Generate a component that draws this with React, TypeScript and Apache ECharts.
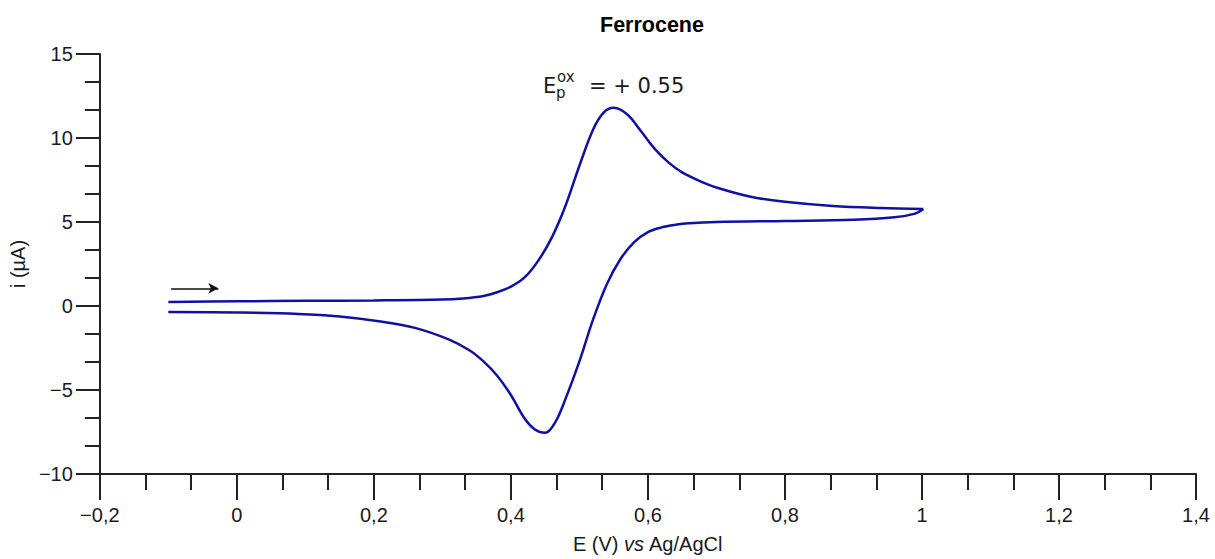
import React, { useEffect, useRef } from "react";
import * as echarts from "echarts";

const titleText = "Ferrocene";
const xTicks = { min: -0.2, max: 1.4, interval: 0.2 };
const yTicks = { min: -10, max: 15, interval: 5 };

// forward (oxidative) scan, E in V, i in µA
const forwardE = [-0.1, 0.0, 0.1, 0.2, 0.3, 0.33, 0.36, 0.38, 0.4, 0.42, 0.44, 0.46, 0.48, 0.5, 0.52, 0.535, 0.55, 0.57, 0.59, 0.61, 0.63, 0.65, 0.675, 0.7, 0.75, 0.8, 0.87, 0.94, 1.002];
const forwardI = [0.24, 0.28, 0.31, 0.33, 0.38, 0.45, 0.6, 0.82, 1.15, 1.7, 2.7, 4.1, 6.0, 8.35, 10.5, 11.5, 11.8, 11.4, 10.4, 9.35, 8.55, 7.95, 7.45, 7.05, 6.5, 6.2, 5.95, 5.83, 5.77];

// reverse (reductive) scan
const reverseE = [1.002, 0.99, 0.96, 0.9, 0.8, 0.7, 0.66, 0.64, 0.62, 0.6, 0.58, 0.56, 0.54, 0.52, 0.5, 0.48, 0.465, 0.45, 0.435, 0.42, 0.4, 0.38, 0.36, 0.34, 0.31, 0.26, 0.21, 0.15, 0.09, 0.0, -0.1];
const reverseI = [5.77, 5.5, 5.28, 5.13, 5.06, 5.0, 4.92, 4.83, 4.68, 4.4, 3.8, 2.8, 1.3, -0.8, -3.3, -5.5, -6.9, -7.55, -7.35, -6.7, -5.3, -4.15, -3.3, -2.65, -2.0, -1.3, -0.92, -0.62, -0.47, -0.39, -0.36];

const arrowStart = [-0.096, 1.05];
const arrowEnd = [-0.027, 1.05];

const lineColor = "#1010a6";
const axisColor = "#222222";
const textColor = "#1a1a1a";

function zip(xs: number[], ys: number[]) {
  return xs.map((x, i) => [x, ys[i]]);
}

export default function App() {
  const ref = useRef<HTMLDivElement>(null);
  useEffect(() => {
    if (!ref.current) return;
    const chart = echarts.init(ref.current, undefined, { renderer: "svg" });
    const labelFont = { fontFamily: "Liberation Sans, Arial, sans-serif", fontSize: 20, color: textColor };
    chart.setOption({
      animation: false,
      backgroundColor: "#ffffff",
      title: {
        text: titleText,
        left: 600,
        top: 14,
        padding: 0,
        textStyle: { fontFamily: "Liberation Sans, Arial, sans-serif", fontSize: 21.5, fontWeight: "bold", color: "#000" },
      },
      grid: { left: 99, right: 19, top: 54, bottom: 85 },
      xAxis: {
        type: "value",
        min: xTicks.min,
        max: xTicks.max,
        interval: xTicks.interval,
        name: "E (V) {i|vs} Ag/AgCl",
        nameLocation: "middle",
        nameGap: 60,
        nameTextStyle: {
          ...labelFont,
          rich: { i: { fontStyle: "italic", fontFamily: "Liberation Sans, Arial, sans-serif", fontSize: 20, color: textColor } },
        },
        axisLine: { onZero: false, lineStyle: { color: axisColor, width: 2 } },
        axisTick: { inside: false, length: 26, lineStyle: { color: axisColor, width: 2 } },
        minorTick: { show: true, splitNumber: 3, length: 16, lineStyle: { color: axisColor, width: 2 } },
        splitLine: { show: false },
        axisLabel: {
          ...labelFont,
          margin: 31,
          formatter: (v: number) => {
            const r = Math.round(v * 10) / 10;
            return (r < 0 ? "\u2212" : "") + Math.abs(r).toString().replace(".", ",");
          },
        },
      },
      yAxis: {
        type: "value",
        min: yTicks.min,
        max: yTicks.max,
        interval: yTicks.interval,
        name: "i (\u00b5A)",
        nameLocation: "middle",
        nameGap: 68,
        nameTextStyle: labelFont,
        axisLine: { onZero: false, lineStyle: { color: axisColor, width: 2 } },
        axisTick: { inside: false, length: 24, lineStyle: { color: axisColor, width: 2 } },
        minorTick: { show: true, splitNumber: 3, length: 15, lineStyle: { color: axisColor, width: 2 } },
        splitLine: { show: false },
        axisLabel: {
          ...labelFont,
          margin: 27,
          formatter: (v: number) => (v < 0 ? "\u2212" + Math.abs(v) : String(v)),
        },
      },
      graphic: [
        {
          type: "group",
          children: [
            { type: "text", x: 543, y: 86, style: { text: "E", fontFamily: "DejaVu Sans", fontSize: 21, fill: textColor, verticalAlign: "middle" } },
            { type: "text", x: 556, y: 93, style: { text: "p", fontFamily: "DejaVu Sans", fontSize: 15, fill: textColor, verticalAlign: "middle" } },
            { type: "text", x: 557, y: 77, style: { text: "ox", fontFamily: "DejaVu Sans", fontSize: 15, fill: textColor, verticalAlign: "middle" } },
            { type: "text", x: 589, y: 86, style: { text: "= + 0.55", fontFamily: "DejaVu Sans", fontSize: 21, fill: textColor, verticalAlign: "middle" } },
          ],
        },
      ],
      series: [
        {
          name: "forward",
          type: "line",
          data: zip(forwardE, forwardI),
          showSymbol: false,
          symbol: "none",
          smooth: 0.35,
          lineStyle: { color: lineColor, width: 2.5 },
          itemStyle: { color: lineColor },
          silent: true,
          markLine: {
            silent: true,
            symbol: ["none", "arrow"],
            symbolSize: [8, 10],
            label: { show: false },
            lineStyle: { color: "#111", width: 1.5, type: "solid" },
            data: [[{ coord: arrowStart }, { coord: arrowEnd }]],
          },
        },
        {
          name: "reverse",
          type: "line",
          data: zip(reverseE, reverseI),
          showSymbol: false,
          symbol: "none",
          smooth: 0.35,
          lineStyle: { color: lineColor, width: 2.5 },
          itemStyle: { color: lineColor },
          silent: true,
        },
      ],
    });
    return () => chart.dispose();
  }, []);
  return <div ref={ref} style={{ position: "fixed", left: 0, top: 0, width: 1215, height: 559 }} />;
}
